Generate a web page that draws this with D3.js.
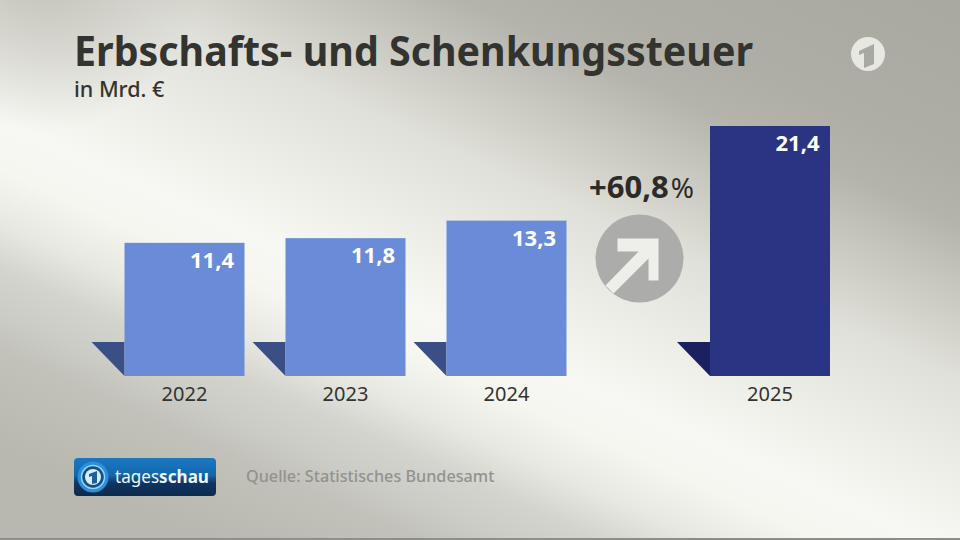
<!DOCTYPE html>
<html>
  <head>
    <meta charset="utf-8">
    <title>Erbschafts- und Schenkungssteuer</title>
    <script src="https://d3js.org/d3.v7.min.js"></script>
    <style>
      html, body { margin: 0; padding: 0; background: #c8c8c2; overflow: hidden; }
      svg { display: block; }
      text { font-family: "Noto Sans", "Open Sans", sans-serif; }
    </style>
  </head>
  <body>
    <svg id="canvas" width="960" height="540"></svg>
    <script>
      const years = ['2022', '2023', '2024', '2025']
      const values = [11.4, 11.8, 13.3, 21.4]
      const valueLabels = ['11,4', '11,8', '13,3', '21,4']
      const barColors = ['#6a8bd8', '#6a8bd8', '#6a8bd8', '#2b3482']
      const shadowColors = ['#3a4f85', '#3a4f85', '#3a4f85', '#1b2060']
      // background sweep
      const bgStops = [
        [0, '#a8a89f'], [0.2, '#aeaea6'], [0.27, '#b4b4ac'], [0.33, '#c4c4bc'],
        [0.395, '#d4d4cc'], [0.44, '#e0e0da'], [0.55, '#eeeee8'], [0.634, '#f7f8f3'],
        [0.69, '#f6f6f1'], [0.75, '#e8e8e2'], [0.8, '#d4d4ce'], [0.85, '#ccccc6'],
        [0.89, '#c2c2bb'], [0.956, '#bcbcb4'], [1, '#b8b8b0']
      ]

      const baseline = 376
      const barWidth = 120
      const shadowSize = 33

      const svg = d3.select('#canvas')
      const defs = svg.append('defs')

      const bgLinear = defs.append('linearGradient').attr('id', 'bg')
        .attr('gradientUnits', 'userSpaceOnUse')
        .attr('x1', 613).attr('y1', -173).attr('x2', 277).attr('y2', 573)
      bgStops.forEach(s => {
        bgLinear.append('stop').attr('offset', s[0]).attr('stop-color', s[1])
      })
      svg.append('rect').attr('width', 960).attr('height', 540).attr('fill', 'url(#bg)')

      // top left corner falls off to grey
      const cornerTL = defs.append('radialGradient').attr('id', 'cornerTL')
        .attr('gradientUnits', 'userSpaceOnUse')
        .attr('cx', 40).attr('cy', -40).attr('r', 170)
      cornerTL.append('stop').attr('offset', '0%').attr('stop-color', '#bcbcb4').attr('stop-opacity', 0.9)
      cornerTL.append('stop').attr('offset', '100%').attr('stop-color', '#bcbcb4').attr('stop-opacity', 0)
      svg.append('rect').attr('width', 960).attr('height', 540).attr('fill', 'url(#cornerTL)')

      // dark line along the bottom edge
      svg.append('rect').attr('y', 538).attr('width', 960).attr('height', 2).attr('fill', '#8e8e88')

      const logoBlue = defs.append('linearGradient').attr('id', 'logoBlue')
        .attr('x1', 0).attr('y1', 0).attr('x2', 0).attr('y2', 1)
      logoBlue.append('stop').attr('offset', '0%').attr('stop-color', '#1a78c4')
      logoBlue.append('stop').attr('offset', '45%').attr('stop-color', '#1567ab')
      logoBlue.append('stop').attr('offset', '66%').attr('stop-color', '#0e3561')
      logoBlue.append('stop').attr('offset', '100%').attr('stop-color', '#0c2a50')

      const x = d3.scaleOrdinal().domain(years).range([124.5, 285.5, 446.5, 710])
      const y = d3.scaleLinear().domain([0, 21.4]).range([baseline, 126])

      const rows = years.map((year, i) => ({
        year, value: values[i], label: valueLabels[i], color: barColors[i], shadow: shadowColors[i]
      }))

      // title
      svg.append('text').attr('x', 74).attr('y', 66)
        .attr('font-size', 41).attr('font-weight', 700).attr('fill', '#33332f')
        .attr('textLength', 679).attr('lengthAdjust', 'spacingAndGlyphs')
        .text('Erbschafts- und Schenkungssteuer')
      svg.append('text').attr('x', 74).attr('y', 97)
        .attr('font-size', 21.5).attr('font-weight', 500).attr('fill', '#33332f')
        .text('in Mrd. €')

      // bars
      const bars = svg.append('g').selectAll('g').data(rows).enter().append('g')

      bars.append('path')
        .attr('fill', d => d.shadow)
        .attr('d', d => {
          const path = d3.path()
          path.moveTo(x(d.year) - shadowSize, baseline - shadowSize - 1)
          path.lineTo(x(d.year), baseline - shadowSize - 1)
          path.lineTo(x(d.year), baseline)
          path.closePath()
          return path.toString()
        })

      bars.append('rect')
        .attr('x', d => x(d.year))
        .attr('y', d => y(d.value))
        .attr('width', barWidth)
        .attr('height', d => baseline - y(d.value))
        .attr('fill', d => d.color)

      bars.append('text')
        .attr('x', d => x(d.year) + barWidth - 10.5)
        .attr('y', d => y(d.value) + 25)
        .attr('text-anchor', 'end')
        .attr('font-size', 22).attr('font-weight', 700).attr('fill', '#fff')
        .text(d => d.label)

      bars.append('text')
        .attr('x', d => x(d.year) + barWidth / 2)
        .attr('y', baseline + 25)
        .attr('text-anchor', 'middle')
        .attr('font-size', 20).attr('fill', '#33332f')
        .text(d => d.year)

      // change badge
      const change = svg.append('text').attr('x', 641.5).attr('y', 198)
        .attr('text-anchor', 'middle').attr('fill', '#2b2b28').attr('font-size', 31)
      change.append('tspan').attr('font-weight', 700).text('+60,8')
      change.append('tspan').attr('font-size', 28).attr('dx', 2).text('%')

      const badge = svg.append('g').attr('transform', 'translate(639.5,258.5)')
      badge.append('circle').attr('r', 44).attr('fill', '#acacaa')
      badge.append('path').attr('fill', '#eeeeea')
        .attr('d', 'M-22,-20 L19,-20 L19,22 L9,22 L9,0 L-26,35 L-34,27 L-1,-7 L-22,-7 Z')

      // ARD logo top right
      const ard = svg.append('g').attr('transform', 'translate(868,54)')
      ard.append('circle').attr('r', 17).attr('fill', '#e8e8e2')
      ard.append('path').attr('fill', '#a9a9a3')
        .attr('d', 'M-9,-3 L6,-10 L6,10 L-4,14 L-4,-1 L-9,1 Z')

      // tagesschau logo
      const logo = svg.append('g').attr('transform', 'translate(74,458)')
      logo.append('rect').attr('width', 142).attr('height', 38).attr('rx', 4).attr('fill', 'url(#logoBlue)')
      logo.append('circle').attr('cx', 19).attr('cy', 19).attr('r', 15.5).attr('fill', '#2a8fdc')
      logo.append('circle').attr('cx', 19).attr('cy', 19).attr('r', 11.5).attr('fill', '#0f4f8e')
        .attr('stroke', '#9fd0f0').attr('stroke-width', 1.5)
      logo.append('circle').attr('cx', 19).attr('cy', 19).attr('r', 8).attr('fill', '#d8ecf8')
      logo.append('path').attr('fill', '#1a5f9e')
        .attr('d', 'M15,16 L23,13 L23,25 L18,26 L18,18 L15,19 Z')
      const wordmark = logo.append('text').attr('x', 41).attr('y', 25)
        .attr('font-size', 18.5).attr('fill', '#eef6fb')
        .attr('textLength', 94).attr('lengthAdjust', 'spacingAndGlyphs')
      wordmark.append('tspan').text('tages')
      wordmark.append('tspan').attr('font-weight', 700).text('schau')

      // source
      svg.append('text').attr('x', 246).attr('y', 482)
        .attr('font-size', 16.2).attr('font-weight', 500).attr('fill', '#92928e')
        .text('Quelle: Statistisches Bundesamt')
    </script>
  </body>
</html>
